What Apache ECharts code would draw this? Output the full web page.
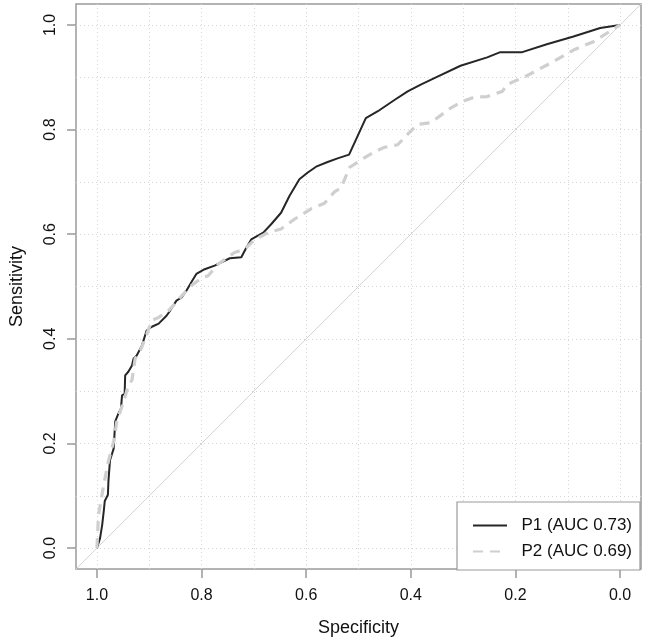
<!DOCTYPE html>
<html>
<head>
<meta charset="utf-8">
<script src="https://cdn.jsdelivr.net/npm/echarts@6/dist/echarts.min.js"></script>
<style>html,body{margin:0;padding:0;background:#fff;}#c{width:645px;height:642px;}</style>
</head>
<body>
<div id="c"></div>
<script>
// ---- data ----
const seriesNames = ['P1 (AUC 0.73)', 'P2 (AUC 0.69)'];
const p1Spec = [1.000,0.994,0.990,0.987,0.985,0.979,0.978,0.975,0.968,0.965,0.959,0.954,0.952,0.947,0.946,0.940,0.933,0.930,0.924,0.914,0.905,0.895,0.882,0.867,0.860,0.848,0.838,0.829,0.819,0.810,0.794,0.775,0.746,0.724,0.714,0.705,0.682,0.667,0.648,0.632,0.613,0.597,0.581,0.559,0.540,0.518,0.502,0.486,0.463,0.432,0.406,0.381,0.356,0.305,0.254,0.229,0.187,0.140,0.089,0.038,0.000];
const p1Sens = [0.000,0.019,0.044,0.070,0.090,0.102,0.128,0.168,0.190,0.242,0.257,0.267,0.292,0.295,0.330,0.337,0.349,0.362,0.368,0.387,0.416,0.423,0.429,0.444,0.454,0.473,0.479,0.492,0.509,0.524,0.533,0.540,0.554,0.556,0.575,0.590,0.603,0.619,0.641,0.673,0.705,0.718,0.729,0.738,0.745,0.752,0.787,0.822,0.835,0.856,0.873,0.886,0.898,0.922,0.938,0.948,0.948,0.963,0.978,0.994,1.000];
const p2Spec = [1.000,0.997,0.987,0.978,0.968,0.962,0.949,0.940,0.933,0.927,0.918,0.908,0.895,0.882,0.863,0.851,0.838,0.819,0.803,0.787,0.768,0.737,0.718,0.698,0.673,0.648,0.622,0.590,0.565,0.546,0.533,0.524,0.518,0.489,0.470,0.451,0.425,0.410,0.387,0.362,0.324,0.305,0.279,0.254,0.225,0.216,0.178,0.133,0.089,0.051,0.000];
const p2Sens = [0.000,0.063,0.121,0.166,0.204,0.242,0.280,0.311,0.321,0.362,0.375,0.400,0.435,0.441,0.454,0.467,0.482,0.502,0.514,0.521,0.543,0.565,0.571,0.590,0.603,0.610,0.629,0.649,0.659,0.681,0.689,0.711,0.727,0.746,0.757,0.766,0.771,0.787,0.810,0.813,0.841,0.852,0.862,0.863,0.873,0.886,0.903,0.927,0.952,0.968,1.000];
const diagSpec = [1.04, -0.04];
const diagSens = [-0.04, 1.04];
const tickValues = [0, 0.2, 0.4, 0.6, 0.8, 1.0];
const gridValues = [0, 0.1, 0.2, 0.3, 0.4, 0.5, 0.6, 0.7, 0.8, 0.9, 1.0];
const axisMin = -0.04, axisMax = 1.04;

const zip = (a, b) => a.map((v, i) => [v, b[i]]);

const FONT = '"Liberation Sans", Arial, Helvetica, sans-serif';
const chart = echarts.init(document.getElementById('c'), null, {renderer: 'canvas'});

function mainAxis(isX) {
  return {
    type: 'value', gridIndex: 0,
    min: axisMin, max: axisMax,
    inverse: isX,
    position: isX ? 'bottom' : 'left',
    name: isX ? 'Specificity' : 'Sensitivity',
    nameLocation: 'middle',
    nameGap: isX ? 50 : 50,
    nameTextStyle: {fontFamily: FONT, fontSize: 18, color: '#111'},
    axisLine: {show: false, onZero: false},
    axisTick: {show: true, length: 9, customValues: tickValues, lineStyle: {color: '#999', width: 1.5}},
    axisLabel: {
      show: true, customValues: tickValues, margin: isX ? 19 : 17,
      rotate: isX ? 0 : 90,
      fontFamily: FONT, fontSize: 16, color: '#111',
      formatter: v => v.toFixed(1)
    },
    splitLine: {show: false}
  };
}
function gridAxis(isX) {
  return {
    type: 'value', gridIndex: 0,
    min: axisMin, max: axisMax,
    inverse: isX,
    position: isX ? 'top' : 'right',
    axisLine: {show: false, onZero: false},
    axisTick: {show: false, customValues: gridValues},
    axisLabel: {show: false, customValues: gridValues},
    splitLine: {show: true, lineStyle: {color: '#d6d6d6', width: 1, type: [1, 3]}}
  };
}

chart.setOption({
  animation: false,
  backgroundColor: '#fff',
  grid: {left: 74, right: 4, top: 4, bottom: 71, show: true, borderColor: '#9a9a9a', borderWidth: 1.5, backgroundColor: 'transparent'},
  xAxis: [mainAxis(true), gridAxis(true)],
  yAxis: [mainAxis(false), gridAxis(false)],
  legend: {
    data: seriesNames,
    orient: 'vertical',
    right: 5, bottom: 72,
    padding: [15, 8, 10, 15],
    itemGap: 9,
    itemWidth: 34, itemHeight: 14,
    borderColor: '#9a9a9a', borderWidth: 1.2,
    backgroundColor: '#fff',
    itemStyle: {opacity: 0},
    textStyle: {fontFamily: FONT, fontSize: 17, color: '#111'},
    formatter: name => '  ' + name
  },
  series: [
    {
      name: 'diag', type: 'line', xAxisIndex: 0, yAxisIndex: 0,
      data: zip(diagSpec, diagSens), showSymbol: false, symbol: 'none',
      lineStyle: {color: '#d4d4d4', width: 1}, silent: true, z: 1
    },
    {
      name: seriesNames[0], type: 'line', xAxisIndex: 0, yAxisIndex: 0,
      data: zip(p1Spec, p1Sens), showSymbol: false, symbol: 'none',
      itemStyle: {color: '#262626'},
      lineStyle: {color: '#262626', width: 2}, z: 3
    },
    {
      name: seriesNames[1], type: 'line', xAxisIndex: 0, yAxisIndex: 0,
      data: zip(p2Spec, p2Sens), showSymbol: false, symbol: 'none',
      itemStyle: {color: '#cfcfcf'},
      lineStyle: {color: '#cfcfcf', width: 3.2, type: [10, 7]}, z: 4
    }
  ]
});
</script>
</body>
</html>
